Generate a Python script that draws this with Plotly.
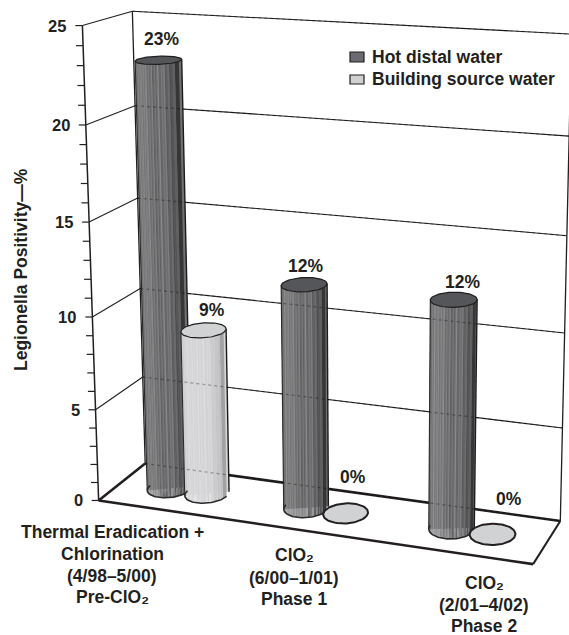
import numpy as np
import plotly.graph_objects as go

# ---- data ----
categories = ["Thermal Eradication +<br>Chlorination<br>(4/98–5/00)<br>Pre-ClO₂",
              "ClO₂<br>(6/00–1/01)<br>Phase 1",
              "ClO₂<br>(2/01–4/02)<br>Phase 2"]
hot_distal = [23, 12, 12]
building_source = [9, 0, 0]
series_names = ["Hot distal water", "Building source water"]
z_ticks = [0, 5, 10, 15, 20, 25]
y_title = "Legionella Positivity—%"

INK = "#231f20"
FONT = "Liberation Sans"

# ---- oblique chart camera, calibrated on the frame of the box ----
calib = [((0,0,0),(98,500)),((0,0,5),(96,410)),((0,0,10),(92,318)),((0,0,15),(89,222)),((0,0,20),(86,125)),((0,0,25),(83,25)),
         ((0,1,0),(145,463)),((0,1,5),(143,377)),((0,1,10),(140,289)),((0,1,15),(138,198)),((0,1,20),(135,106)),((0,1,25),(132,11)),
         ((3,1,0),(560,521)),((3,1,5),(562,428)),((3,1,10),(566,333)),((3,1,15),(568,236)),((3,1,20),(569,136)),((3,1,25),(570,34)),
         ((3,0,0),(533,564))]
A, b = [], []
for (X, D, Z), (u, v) in calib:
    A.append([X, D, Z, 1, 0, 0, 0, 0, -u*X, -u*D, -u*Z]); b.append(u)
    A.append([0, 0, 0, 0, X, D, Z, 1, -v*X, -v*D, -v*Z]); b.append(v)
p = np.linalg.lstsq(np.array(A, float), np.array(b, float), rcond=None)[0]
P = np.append(p, 1).reshape(3, 4)

def proj(X, D, Z):
    X, D, Z = np.broadcast_arrays(np.asarray(X, float), np.asarray(D, float), np.asarray(Z, float))
    h = P @ np.stack([X, D, Z, np.ones_like(X)])
    return h[0]/h[2], h[1]/h[2]

fig = go.Figure()

def seg(a, b, width, color=INK, dash=None):
    x, y = proj([a[0], b[0]], [a[1], b[1]], [a[2], b[2]])
    fig.add_trace(go.Scatter(x=x, y=y, mode="lines", hoverinfo="skip", showlegend=False,
                             line=dict(color=color, width=width, dash=dash)))

# ---- frame ----
for z in z_ticks[1:]:
    seg((0,0,z), (0,1,z), 1.1)
    seg((0,1,z), (3,1,z), 1.1)
seg((0,1,0), (0,1,25), 1.3)
seg((3,1,0), (3,1,25), 1.3)
seg((0,0,0), (0,0,25), 1.5)
seg((0,0,0), (0,1,0), 2.6)
seg((0,1,0), (3,1,0), 2.6)
seg((0,0,0), (3,0,0), 2.6)
seg((3,0,0), (3,1,0), 2.0)

# tick marks on the vertical axis
for z in range(0, 26):
    ax, ay = proj(0, 0, z)
    fig.add_trace(go.Scatter(x=[float(ax)-7, float(ax)], y=[float(ay), float(ay)], mode="lines", hoverinfo="skip",
                             showlegend=False, line=dict(color=INK, width=1.2)))

# ---- cylinders ----
RX, RD = 0.145, 0.24
STRIPE = [0,14,-3,6,22,-5,3,16,-6,8,26,0,-4,12,2,20,-6,5,15,-2,9,24,-4]

def hot_gray(u):
    return np.interp(u, [0, .06, .22, .45, .62, .8, .93, 1], [78, 110, 124, 118, 100, 106, 82, 52])
def light_gray(u):
    return np.interp(u, [0, .05, .25, .6, .85, .96, 1], [176, 205, 212, 214, 208, 190, 150])

def cylinder(cx, cd, val, name, gray, top_fill, pattern_amp):
    if val == 0:
        t = np.linspace(0, 2*np.pi, 90)
        x, y = proj(cx + RX*np.cos(t), cd + RD*np.sin(t), 0*t)
        fig.add_trace(go.Scatter(x=x, y=y, mode="lines", fill="toself", fillcolor=top_fill, name=name, hoverinfo="skip",
                                 showlegend=False, line=dict(color=INK, width=2)))
        return
    t = np.linspace(0, 2*np.pi, 90)
    bx, by = proj(cx + RX*np.cos(t), cd + RD*np.sin(t), 0*t)
    tx, ty = proj(cx + RX*np.cos(t), cd + RD*np.sin(t), val + 0*t)
    il, ir = np.argmin(bx), np.argmax(bx)
    jl, jr = np.argmin(tx), np.argmax(tx)
    # front strips, equal in width on screen
    n = 46
    us = np.linspace(0, 1, n+1)
    ang = np.pi + np.arccos(1 - 2*us)
    groups = {}
    for k in range(n):
        th = np.array([ang[k], ang[k+1]])
        xb, yb = proj(cx + RX*np.cos(th), cd + RD*np.sin(th), 0*th)
        xt, yt = proj(cx + RX*np.cos(th), cd + RD*np.sin(th), val + 0*th)
        level = float(gray((k+.5)/n)) + pattern_amp*STRIPE[k % len(STRIPE)]
        level = int(np.clip(round(level/6)*6, 0, 255))
        g = groups.setdefault(level, ([], []))
        g[0].extend([xb[0], xb[1], xt[1], xt[0], xb[0], None])
        g[1].extend([yb[0], yb[1], yt[1], yt[0], yb[0], None])
    base = int(gray(.5))
    sx = [bx[il], bx[ir], tx[jr], tx[jl], bx[il]]
    sy = [by[il], by[ir], ty[jr], ty[jl], by[il]]
    fig.add_trace(go.Scatter(x=sx, y=sy, mode="lines", fill="toself", fillcolor=f"rgb({base},{base},{base})",
                             line=dict(width=0), hoverinfo="skip", showlegend=False))
    for level in sorted(groups):
        g = groups[level]
        c = f"rgb({level},{level},{level+2})"
        fig.add_trace(go.Scatter(x=g[0], y=g[1], mode="lines", fill="toself", fillcolor=c, name=name,
                                 line=dict(width=0), hoverinfo="skip", showlegend=False))
    fig.add_trace(go.Scatter(x=[bx[il], tx[jl]], y=[by[il], ty[jl]], mode="lines", line=dict(color="#2a2a2a", width=1.1),
                             hoverinfo="skip", showlegend=False))
    fig.add_trace(go.Scatter(x=[bx[ir], tx[jr]], y=[by[ir], ty[jr]], mode="lines", line=dict(color="#1c1c1c", width=1.4),
                             hoverinfo="skip", showlegend=False))
    th = np.linspace(np.pi, 2*np.pi, 50)
    ax, ay = proj(cx + RX*np.cos(th), cd + RD*np.sin(th), 0*th)
    fig.add_trace(go.Scatter(x=ax, y=ay, mode="lines", line=dict(color="#2a2a2a", width=1.6), hoverinfo="skip", showlegend=False))
    fig.add_trace(go.Scatter(x=tx, y=ty, mode="lines", fill="toself", fillcolor=top_fill, line=dict(color="#1f1f1f", width=1.2),
                             hoverinfo="skip", showlegend=False))

HOT_X = [0.355, 1.355, 2.365]
LIGHT_X = [0.635, 1.635, 2.64]
DEPTH = 0.5
for i in range(3):
    cylinder(HOT_X[i], DEPTH, hot_distal[i], series_names[0], hot_gray, "#55565a", 1.25)
    cylinder(LIGHT_X[i], DEPTH, building_source[i], series_names[1], light_gray, "#d0d2d4", 0.35)

# grid faintly showing through the bars
for z in z_ticks:
    seg((0,1,z), (3,1,z), 1.3, color="rgba(0,0,0,0.3)", dash="dot")

# ---- text ----
ann = []
def txt(x, y, s, size=15, anchor="center", **kw):
    ann.append(dict(x=float(x), y=float(y), text=s, showarrow=False, xanchor=anchor, yanchor="middle",
                    font=dict(family=FONT, size=size, color=INK), **kw))

for z in z_ticks:
    ax, ay = proj(0, 0, z)
    txt(float(ax)-14, ay, f"<b>{z}</b>", anchor="right", size=16.5)
txt(21, 270, f"<b>{y_title}</b>", size=17.5, textangle=-90)

SHIFT = [(3, -21), (8, -20), (1, -19), (7, -36), (9, -18), (16, -35)]
vals = [hot_distal[0], building_source[0], hot_distal[1], building_source[1], hot_distal[2], building_source[2]]
xs = [HOT_X[0], LIGHT_X[0], HOT_X[1], LIGHT_X[1], HOT_X[2], LIGHT_X[2]]
for v, X, (dx, dy) in zip(vals, xs, SHIFT):
    px, py = proj(X, DEPTH, v)
    txt(float(px)+dx, float(py)+dy, f"<b>{v}%</b>", size=17.5)

CAT_POS = [(112, [532, 554, 576, 597]), (294, [555, 578, 599]), (484, [583, 605, 626])]
for cat, (cx, ys) in zip(categories, CAT_POS):
    for line, y in zip(cat.split("<br>"), ys):
        txt(cx, y, f"<b>{line}</b>", size=17.5)

shapes = []
for (y0, y1), col, name in zip([(52, 62), (75, 84)], ["#6a6b70", "#cfd0d2"], series_names):
    shapes.append(dict(type="rect", x0=350, x1=364, y0=y0, y1=y1, fillcolor=col, line=dict(color=INK, width=1.2)))
    txt(370, (y0+y1)/2-0.5, f"<b>{name}</b>", size=17.5, anchor="left")

fig.update_layout(width=569, height=635, margin=dict(l=0, r=0, t=0, b=0), showlegend=False,
                  plot_bgcolor="white", paper_bgcolor="white", annotations=ann, shapes=shapes,
                  xaxis=dict(range=[0, 569], visible=False, fixedrange=True),
                  yaxis=dict(range=[635, 0], visible=False, fixedrange=True))
fig.write_html("out.html", config=dict(displayModeBar=False),
               post_script="document.body.style.margin='0';document.body.style.overflow='hidden';")
